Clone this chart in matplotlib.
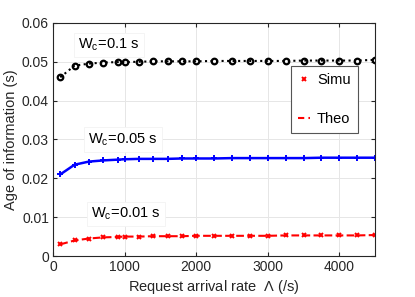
import numpy as np
import matplotlib
matplotlib.use("Agg")
import matplotlib.pyplot as plt

plt.rcParams['font.family'] = ['Liberation Sans', 'DejaVu Sans']
plt.rcParams['mathtext.fontset'] = 'custom'
plt.rcParams['mathtext.rm'] = 'Liberation Sans'
plt.rcParams['mathtext.it'] = 'Liberation Sans'

# 요청 도착률
rate = [100, 300, 500, 700, 900, 1000, 1200, 1400, 1600, 1800, 2000,
        2250, 2500, 2750, 3000, 3250, 3500, 3750, 4000, 4250, 4500]

# Wc = 0.1 s
aoi_01 = [0.0460, 0.0490, 0.0495, 0.0498, 0.0499, 0.0499, 0.0500, 0.0501, 0.0501, 0.0501, 0.0501,
          0.0502, 0.0502, 0.0502, 0.0502, 0.0502, 0.0503, 0.0503, 0.0503, 0.0503, 0.0505]
# Wc = 0.05 s
aoi_005 = [0.0210, 0.0235, 0.0243, 0.0246, 0.0248, 0.0249, 0.0250, 0.0250, 0.0250, 0.0251, 0.0251,
           0.0251, 0.0252, 0.0252, 0.0252, 0.0252, 0.0252, 0.0253, 0.0253, 0.0253, 0.0253]
# Wc = 0.01 s
aoi_001 = [0.0030, 0.0040, 0.0045, 0.0048, 0.0049, 0.0050, 0.0050, 0.0051, 0.0051, 0.0051, 0.0052,
           0.0052, 0.0052, 0.0052, 0.0052, 0.0053, 0.0053, 0.0053, 0.0053, 0.0053, 0.0054]

fig = plt.figure(figsize=(4.15, 2.97), dpi=100)
ax = fig.add_axes([0.128, 0.138, 0.776, 0.785])

# 그래프 그리기
ax.plot(rate, aoi_01, color='black', linestyle=':', linewidth=1.5,
        marker='o', markersize=4, markerfacecolor='none', markeredgewidth=1.6)
ax.plot(rate, aoi_005, color='blue', linestyle='-', linewidth=1.8,
        marker='+', markersize=4.5, markeredgewidth=1.4)
ax.plot(rate, aoi_001, color='red', linestyle='--', linewidth=1.5,
        marker='x', markersize=3.5, markeredgewidth=1.4)

# 범례용
ax.plot([], [], 'x', color='red', markersize=3, markeredgewidth=1.4, label='Simu')
ax.plot([], [], '--', color='red', linewidth=1.5, dashes=(3, 2), label='Theo')
leg = ax.legend(loc='upper right', bbox_to_anchor=(0.946, 0.815), fontsize=10.5,
                fancybox=False, edgecolor='#555555', framealpha=1,
                handlelength=0.8, handletextpad=0.5, labelspacing=1.7,
                borderpad=0.5, borderaxespad=0)
leg.get_frame().set_linewidth(0.8)

box = dict(facecolor='white', edgecolor='#f2f2f2', linewidth=0.6, pad=3)
ax.text(350, 0.0543, r'W$_\mathregular{c}$=0.1 s', fontsize=10.5, va='center', bbox=box)
ax.text(490, 0.0299, r'W$_\mathregular{c}$=0.05 s', fontsize=10.5, va='center', bbox=box)
ax.text(530, 0.0108, r'W$_\mathregular{c}$=0.01 s', fontsize=10.5, va='center', bbox=box)

ax.set_xlim(0, 4500)
ax.set_ylim(0, 0.06)
ax.set_xticks([0, 1000, 2000, 3000, 4000])
ax.set_yticks([0, 0.01, 0.02, 0.03, 0.04, 0.05, 0.06])
ax.set_yticklabels(['0', '0.01', '0.02', '0.03', '0.04', '0.05', '0.06'])
ax.grid(True, color='#e6e6e6', linewidth=0.7)
ax.set_axisbelow(True)
ax.tick_params(direction='in', labelsize=10, colors='#262626', length=3, top=True, right=True, pad=3)
for s in ax.spines.values():
    s.set_color('#262626')
    s.set_linewidth(0.8)

ax.set_xlabel(r'Request arrival rate  $\Lambda$ (/s)', fontsize=10.5, color='#262626', labelpad=3)
ax.set_ylabel('Age of information (s)', fontsize=10.5, color='#262626', labelpad=3)

plt.savefig('out.png', dpi=100)
